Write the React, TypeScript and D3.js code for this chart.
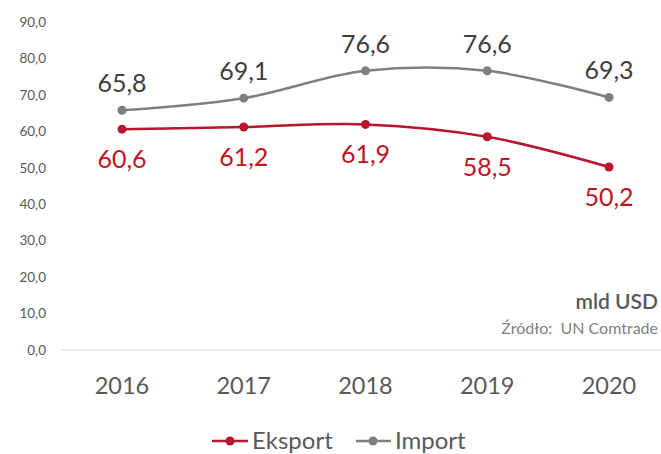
import React from "react";
import * as d3 from "d3";

const years = ["2016", "2017", "2018", "2019", "2020"];
const eksport = [60.6, 61.2, 61.9, 58.5, 50.2];
const importVals = [65.8, 69.1, 76.6, 76.6, 69.3];
const yTicks = [0, 10, 20, 30, 40, 50, 60, 70, 80, 90];

const W = 661;
const H = 454;
const FONT = "Lato, 'Open Sans', sans-serif";
const RED = "#B8162E";
const RED_TEXT = "#C0141F";
const GRAY = "#7F7F7F";

export default function App() {
  const x = d3.scalePoint<string>().domain(years).range([122, 609]);
  const y = d3.scaleLinear().domain([0, 90]).range([350, 22]);
  const line = d3
    .line<number>()
    .x((_, i) => x(years[i]) as number)
    .y((d) => y(d))
    .curve(d3.curveCardinal.tension(0));
  const fmt = (v: number) => v.toFixed(1).replace(".", ",");

  return (
    <div style={{ position: "fixed", left: 0, top: 0 }}>
      <svg width={W} height={H} style={{ display: "block", fontFamily: FONT }}>
        <rect width={W} height={H} fill="#fff" />
        {yTicks.map((t) => (
          <text
            key={t}
            x={46}
            y={y(t)}
            dy="0.35em"
            textAnchor="end"
            fontSize={13.5}
            fill="#595959"
          >
            {fmt(t)}
          </text>
        ))}
        <line x1={60} x2={W} y1={y(0)} y2={y(0)} stroke="#D9D9D9" strokeWidth={1} />
        {years.map((yr) => (
          <text
            key={yr}
            x={x(yr)}
            y={386}
            dy="0.35em"
            textAnchor="middle"
            fontSize={23.5}
            fill="#595959"
          >
            {yr}
          </text>
        ))}
        <path d={line(importVals) || ""} fill="none" stroke={GRAY} strokeWidth={2.5} />
        <path d={line(eksport) || ""} fill="none" stroke={RED} strokeWidth={2.5} />
        {importVals.map((v, i) => (
          <g key={"i" + i}>
            <circle cx={x(years[i])} cy={y(v)} r={4.5} fill={GRAY} />
            <text
              x={x(years[i])}
              y={y(v) - 27}
              dy="0.35em"
              textAnchor="middle"
              fontSize={25}
              fill="#404040"
            >
              {fmt(v)}
            </text>
          </g>
        ))}
        {eksport.map((v, i) => (
          <g key={"e" + i}>
            <circle cx={x(years[i])} cy={y(v)} r={4.5} fill={RED} />
            <text
              x={x(years[i])}
              y={y(v) + 30}
              dy="0.35em"
              textAnchor="middle"
              fontSize={25}
              fill={RED_TEXT}
            >
              {fmt(v)}
            </text>
          </g>
        ))}
        <text x={658} y={302} dy="0.35em" textAnchor="end" fontSize={21} fontWeight={600} fill="#595959">
          mld USD
        </text>
        <text
          x={658}
          y={328}
          dy="0.35em"
          textAnchor="end"
          fontSize={16}
          fill="#7F7F7F"
          style={{ whiteSpace: "pre" }}
        >
          {"Źródło:  UN Comtrade"}
        </text>
        <g>
          <line x1={212} x2={248} y1={441} y2={441} stroke={RED} strokeWidth={2.5} />
          <circle cx={230} cy={441} r={4.5} fill={RED} />
          <text x={252} y={441} dy="0.35em" fontSize={24} fill="#595959">
            Eksport
          </text>
          <line x1={356} x2={391} y1={441} y2={441} stroke={GRAY} strokeWidth={2.5} />
          <circle cx={373} cy={441} r={4.5} fill={GRAY} />
          <text x={395} y={441} dy="0.35em" fontSize={24} fill="#595959">
            Import
          </text>
        </g>
      </svg>
    </div>
  );
}
